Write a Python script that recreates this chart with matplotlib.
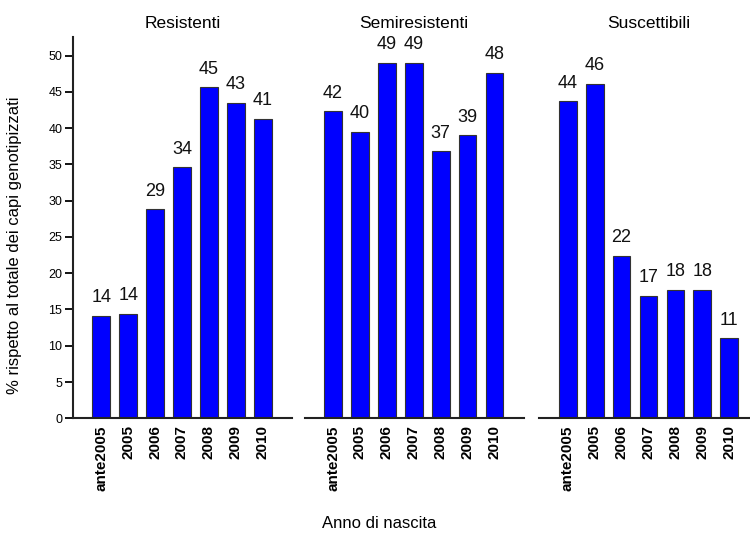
import matplotlib
matplotlib.use('Agg')
import matplotlib.pyplot as plt
import numpy as np

plt.rcParams['font.family'] = ['Liberation Sans', 'DejaVu Sans']

# dati
anni = ['ante2005', '2005', '2006', '2007', '2008', '2009', '2010']
gruppi = ['Resistenti', 'Semiresistenti', 'Suscettibili']
resistenti = [14.1, 14.4, 28.8, 34.6, 45.6, 43.5, 41.3]
semiresistenti = [42.3, 39.5, 49.0, 49.0, 36.8, 39.0, 47.6]
suscettibili = [43.7, 46.1, 22.4, 16.9, 17.7, 17.7, 11.0]
etichette = [
    [14, 14, 29, 34, 45, 43, 41],
    [42, 40, 49, 49, 37, 39, 48],
    [44, 46, 22, 17, 18, 18, 11],
]
valori = [resistenti, semiresistenti, suscettibili]

fig = plt.figure(figsize=(7.5, 5.36), dpi=100)
lefts = [0.097, 0.406, 0.719]
x = np.arange(len(anni))

for i, (nome, vals, lab) in enumerate(zip(gruppi, valori, etichette)):
    ax = fig.add_axes([lefts[i], 0.2196, 0.292, 0.712])
    ax.bar(x, vals, width=0.66, color='#0000ff', edgecolor='#333333', linewidth=0.8)
    for xi, v, l in zip(x, vals, lab):
        ax.annotate(str(l), (xi, v), xytext=(0, 7), textcoords='offset points',
                    ha='center', va='bottom', fontsize=13, color='#111111')
    ax.set_xlim(-1.06, 7.08)
    ax.set_ylim(0, 52.6)
    ax.set_title(nome, fontsize=12.5, pad=6)
    ax.set_xticks(x)
    ax.set_xticklabels(anni, rotation=90, fontsize=11, fontweight='bold',
                       family=['Liberation Sans Narrow', 'Liberation Sans'])
    ax.tick_params(axis='x', length=0, pad=5)
    for s in ['top', 'right']:
        ax.spines[s].set_visible(False)
    ax.spines['bottom'].set_linewidth(1.5)
    ax.spines['bottom'].set_color('#222222')
    if i == 0:
        ax.set_yticks(np.arange(0, 51, 5))
        ax.tick_params(axis='y', length=5.5, width=1.3, labelsize=9, pad=2)
        ax.spines['left'].set_linewidth(1.5)
        ax.spines['left'].set_color('#222222')
    else:
        ax.spines['left'].set_visible(False)
        ax.set_yticks([])

fig.text(0.02, 0.543, '% rispetto al totale dei capi genotipizzati', rotation=90,
         ha='center', va='center', fontsize=12)
fig.text(0.505, 0.024, 'Anno di nascita', ha='center', va='center', fontsize=12)

plt.savefig('out.png', dpi=100)
